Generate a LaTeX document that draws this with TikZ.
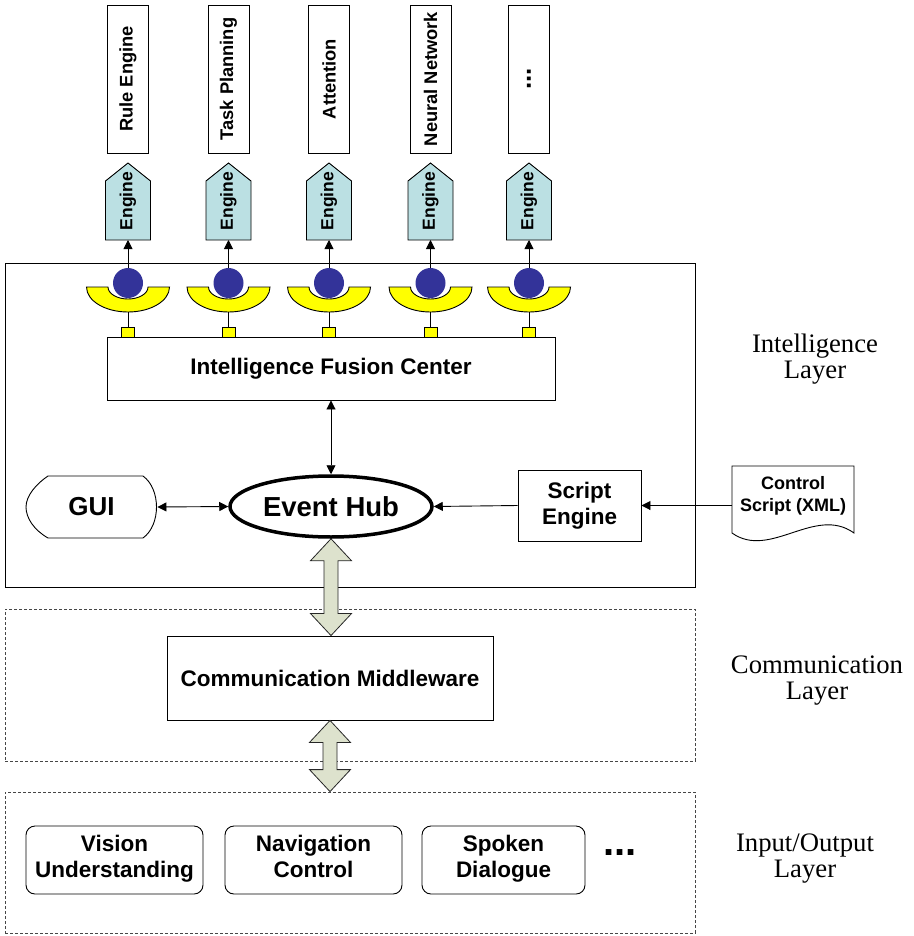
\documentclass[tikz,border=0pt]{standalone}
\usepackage{fontspec}
\setmainfont{Liberation Serif}
\newfontfamily\sansfam{Liberation Sans}
\usetikzlibrary{arrows.meta,calc,shapes.geometric}

\definecolor{engfill}{RGB}{187,224,227}
\definecolor{ballblue}{RGB}{51,51,153}
\definecolor{cupyellow}{RGB}{255,255,0}
\definecolor{fatfill}{RGB}{221,226,205}
\definecolor{dashgray}{RGB}{70,70,70}

% bold sans text of a given size and line distance
\newcommand\bsf[2]{\sansfam\bfseries\fontsize{#1}{#2}\selectfont}
% broad two-headed arrow between two points on one vertical
\newcommand\fatarr[2]{%
  \filldraw[fill=fatfill, draw=black!85, line width=0.8pt]
    let \p1=#1, \p2=#2 in
    (\x1,\y1) -- (\x1+20.5pt,\y1-22pt) -- (\x1+7pt,\y1-22pt) --
    (\x1+7pt,\y2+22pt) -- (\x1+20.5pt,\y2+22pt) -- (\x1,\y2) --
    (\x1-20.5pt,\y2+22pt) -- (\x1-7pt,\y2+22pt) -- (\x1-7pt,\y1-22pt) --
    (\x1-20.5pt,\y1-22pt) -- cycle;}

\begin{document}
\begin{tikzpicture}[x=1pt,y=-1pt,line width=0.9pt,
  >={Triangle[width=9pt,length=9pt]},
  box/.style={draw, inner sep=0pt, align=center},
  algbox/.style={box, minimum width=41pt, minimum height=148pt, font={\bsf{18.3}{21}}},
  engtext/.style={inner sep=0pt, font={\bsf{17.5}{21}}},
  ball/.style={circle, fill=ballblue, minimum size=30pt, inner sep=0pt},
  plug/.style={draw, fill=cupyellow, minimum width=13pt, minimum height=10pt, inner sep=0pt, line width=0.8pt},
  layerbox/.style={draw, inner sep=0pt, minimum width=690pt},
  dashbox/.style={layerbox, draw=dashgray, line width=0.8pt, dash pattern=on 3pt off 2pt},
  iobox/.style={box, rounded corners=9pt, minimum height=68pt, font={\bsf{22.5}{26}}},
  layerlbl/.style={align=center, inner sep=0pt, font={\fontsize{26.7}{26}\selectfont}}
]
\useasboundingbox (0,0) rectangle (913,936);

% layer frames
\node[layerbox, minimum height=324pt] (intl) at (350,425) {};
\node[dashbox, minimum height=152pt] (comm) at (350,685) {};
\node[dashbox, minimum height=141pt] (io) at (350,862.5) {};

% algorithm modules on top
\node[algbox] (alg1) at (128,79) {\rotatebox{90}{Rule Engine}};
\node[algbox] (alg2) at (228.5,79) {\rotatebox{90}{Task Planning}};
\node[algbox] (alg3) at (329,79) {\rotatebox{90}{Attention}};
\node[algbox] (alg4) at (430.5,79) {\rotatebox{90}{Neural Network}};
\node[algbox] (alg5) at (529,79) {\rotatebox{90}{\fontsize{26}{26}\selectfont ...}};

% engine plug-ins: socket, ball, engine tag
\foreach \i/\cx in {1/128, 2/228.5, 3/329, 4/430.5, 5/529}{
  \filldraw[fill=engfill] (\cx-22.5,240) -- (\cx-22.5,181) -- (\cx,163) --
    (\cx+22.5,181) -- (\cx+22.5,240) -- cycle;
  \coordinate (eng\i) at (\cx,240);
  \node[engtext] (engtxt\i) at (\cx,201) {\rotatebox{90}{Engine}};
  \filldraw[fill=cupyellow] (\cx-41.5,287)
    arc[start angle=180, end angle=0, x radius=41.5, y radius=25]
    -- (\cx+20,287)
    arc[start angle=0, end angle=180, x radius=20, y radius=12] -- cycle;
  \coordinate (cup\i) at (\cx,312);
  \node[ball] (ball\i) at (\cx,283) {};
  \node[plug] (sq\i) at (\cx,332) {};
  \draw[->] (ball\i.north) -- (eng\i);
  \draw (cup\i) -- (sq\i.north);
}

% intelligence layer
\node[box, minimum width=448pt, minimum height=63pt, font={\bsf{22.5}{25}}] (fuse) at (331,368.5) {Intelligence Fusion Center};
\node[ellipse, draw, line width=3.5pt, minimum width=202pt, minimum height=61pt, inner sep=0pt, font={\bsf{27.5}{30}}] (hub) at (331,506.5) {Event Hub};
\draw (48,476) -- (143,476) .. controls (161,489) and (161,525) .. (143,538)
  -- (48,538) .. controls (34,530) and (26,518) .. (26,507)
  .. controls (26,496) and (36,484) .. (48,476) -- cycle;
\node[inner sep=0pt, minimum width=131pt, minimum height=62pt, font={\bsf{26}{30}}] (gui) at (91.5,507) {GUI};
\node[box, minimum width=123pt, minimum height=71pt, font={\bsf{22.5}{25.5}}] (script) at (579.5,505.5) {Script\\Engine};
\draw (732,466) -- (854,466) -- (854,533) .. controls (815,505) and (770,560) .. (732,533) -- cycle;
\node[inner sep=0pt, minimum width=122pt, minimum height=77pt] (ctrl) at (793,505.5) {};
\node[align=center, inner sep=0pt, font={\bsf{18}{21.5}}] (ctrltext) at (793,496) {Control\\Script (XML)};

\draw[<->] (fuse.south) -- (hub.north);
\draw[<->] (gui.east) -- (hub.west);
\draw[->] (script.west) -- (hub.east);
\draw[->] (ctrl.west) -- (script.east);

% communication layer
\node[box, minimum width=326pt, minimum height=84pt, font={\bsf{22.5}{25}}] (mw) at (330,678) {Communication Middleware};

% input/output layer
\node[iobox, minimum width=177pt] (vis) at (114.5,860) {Vision\\Understanding\strut};
\node[iobox, minimum width=177pt] (nav) at (313.5,860) {Navigation\\Control\strut};
\node[iobox, minimum width=163pt] (spk) at (503.5,860) {Spoken\\Dialogue\strut};
\node[inner sep=0pt, font={\bsf{40}{40}}] (more) at (620,853) {...};

% broad links between the layers
\fatarr{(hub.south)}{(mw.north)}
\fatarr{(mw.south)}{(io.north)}

% layer names
\node[layerlbl] (lblI) at (815,359) {Intelligence\\Layer};
\node[layerlbl] (lblC) at (817,681) {Communication\\Layer};
\node[layerlbl] (lblIO) at (805,859) {Input/Output\\Layer};
\end{tikzpicture}
\end{document}
